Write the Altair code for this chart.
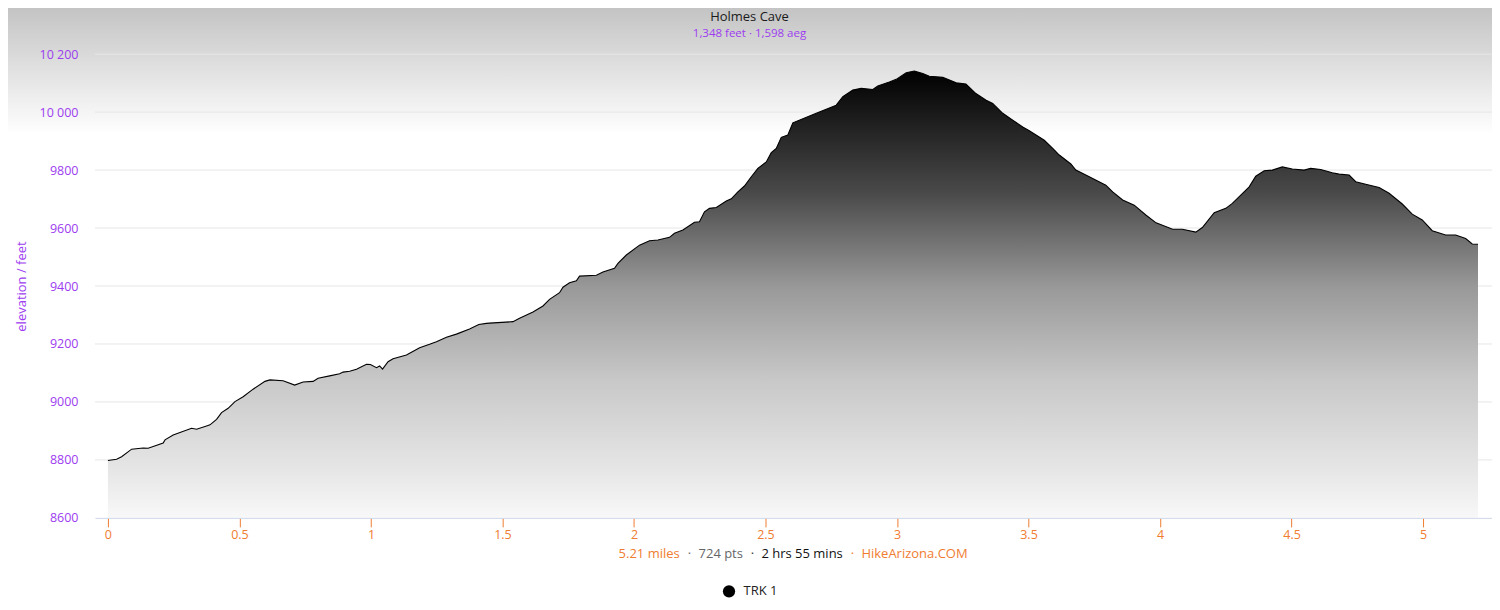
import altair as alt
import pandas as pd

# ---- data ----
miles = [0.000, 0.033, 0.052, 0.090, 0.134, 0.153, 0.210, 0.217, 0.248, 0.318,
         0.337, 0.375, 0.388, 0.413, 0.432, 0.457, 0.483, 0.514, 0.552, 0.597,
         0.616, 0.666, 0.710, 0.742, 0.780, 0.799, 0.843, 0.881, 0.894, 0.919,
         0.945, 0.983, 0.998, 1.021, 1.033, 1.044, 1.065, 1.084, 1.135, 1.185,
         1.223, 1.249, 1.287, 1.325, 1.375, 1.410, 1.439, 1.451, 1.540, 1.565,
         1.616, 1.654, 1.679, 1.717, 1.730, 1.755, 1.781, 1.793, 1.857, 1.882,
         1.926, 1.939, 1.971, 2.021, 2.059, 2.091, 2.135, 2.154, 2.186, 2.230,
         2.249, 2.268, 2.287, 2.313, 2.351, 2.370, 2.395, 2.420, 2.446, 2.471,
         2.503, 2.522, 2.541, 2.560, 2.585, 2.604, 2.693, 2.769, 2.794, 2.832,
         2.864, 2.908, 2.927, 2.971, 2.997, 3.035, 3.066, 3.098, 3.123, 3.174,
         3.225, 3.262, 3.300, 3.339, 3.364, 3.402, 3.440, 3.478, 3.503, 3.560,
         3.592, 3.617, 3.661, 3.680, 3.731, 3.794, 3.820, 3.858, 3.902, 3.946,
         3.985, 4.048, 4.085, 4.136, 4.161, 4.206, 4.250, 4.275, 4.339, 4.364,
         4.396, 4.427, 4.465, 4.503, 4.548, 4.573, 4.611, 4.655, 4.681, 4.719,
         4.744, 4.782, 4.833, 4.871, 4.921, 4.959, 4.997, 5.035, 5.086, 5.124,
         5.162, 5.187, 5.209]
elev = [8798, 8802, 8811, 8837, 8841, 8840, 8858, 8869, 8886, 8909,
        8906, 8917, 8921, 8940, 8963, 8978, 9001, 9018, 9044, 9071,
        9076, 9073, 9058, 9069, 9071, 9082, 9090, 9097, 9103, 9106,
        9113, 9130, 9129, 9118, 9124, 9113, 9139, 9149, 9162, 9187,
        9199, 9208, 9223, 9234, 9252, 9267, 9271, 9272, 9277, 9289,
        9310, 9331, 9354, 9377, 9396, 9411, 9418, 9434, 9437, 9448,
        9461, 9478, 9507, 9541, 9556, 9559, 9568, 9582, 9593, 9620,
        9622, 9656, 9668, 9671, 9693, 9701, 9725, 9745, 9777, 9806,
        9828, 9860, 9875, 9913, 9921, 9963, 9996, 10024, 10053, 10076,
        10082, 10078, 10090, 10104, 10113, 10136, 10142, 10133, 10124, 10120,
        10101, 10097, 10064, 10041, 10030, 9996, 9972, 9949, 9936, 9903,
        9875, 9852, 9821, 9800, 9777, 9748, 9725, 9697, 9679, 9645,
        9618, 9596, 9596, 9586, 9602, 9653, 9668, 9685, 9742, 9779,
        9798, 9800, 9811, 9804, 9800, 9806, 9802, 9791, 9786, 9783,
        9760, 9751, 9740, 9720, 9683, 9648, 9628, 9591, 9576, 9576,
        9564, 9545, 9544]
track_names = ["TRK 1"]
y_ticks = [8600, 8800, 9000, 9200, 9400, 9600, 9800, 10000, 10200]
x_ticks = [0, 0.5, 1, 1.5, 2, 2.5, 3, 3.5, 4, 4.5, 5]
chart_title = "Holmes Cave"
chart_subtitle = "1,348 feet \u00b7 1,598 aeg"
footer_parts = ["5.21 miles", "\u00b7", "724 pts", "\u00b7", "2 hrs 55 mins", "\u00b7", "HikeArizona.COM"]

PURPLE = "#9d3cf0"
ORANGE = "#f07c30"
FONT = "Open Sans"
W, H = 1398, 464

df = pd.DataFrame({"mile": miles, "elev": elev, "track": track_names[0]})

xsc = alt.Scale(domain=[-0.0494, 5.2622], nice=False, zero=False)
ysc = alt.Scale(domain=[8600, 10200], nice=False, zero=False)

xax = alt.Axis(values=x_ticks, title=None, grid=False, domainColor="#ccd6eb",
               domainWidth=1, tickColor=ORANGE, tickSize=9, tickWidth=1,
               labelColor=ORANGE, labelFont=FONT, labelFontSize=12.5,
               labelPadding=2, labelExpr="format(datum.value, '~g')",
               labelFlush=False, labelOverlap=False, zindex=1)
yax = alt.Axis(values=y_ticks, grid=False, domain=False, ticks=False, tickSize=0,
               labelPadding=17, labelColor=PURPLE, labelFont=FONT, labelFontSize=12.5,
               labelExpr="datum.value >= 10000 ? replace(format(datum.value, ','), ',', ' ') : format(datum.value, 'd')",
               title="elevation / feet", titleColor=PURPLE, titleFont=FONT,
               titleFontSize=13, titleFontWeight="normal", titleX=-73, titleY=232,
               titleAngle=270, titleAlign="center", titleBaseline="middle", zindex=1)

one = pd.DataFrame({"k": [0]})

bg = alt.Chart(one).mark_rect(
    fill=alt.LinearGradient(gradient="linear",
                            stops=[alt.GradientStop(color="#c2c2c2", offset=0),
                                   alt.GradientStop(color="#ffffff", offset=1)],
                            x1=0, x2=0, y1=0, y2=1)
).encode(x=alt.value(-90), x2=alt.value(W + 10), y=alt.value(-50), y2=alt.value(80))

grid = alt.Chart(pd.DataFrame({"elev": y_ticks[1:]})).mark_rule(
    color="#e6e6e6", strokeWidth=1
).encode(y=alt.Y("elev:Q", scale=ysc, axis=yax))

area_fill = alt.LinearGradient(
    gradient="linear",
    stops=[alt.GradientStop(color="#000000", offset=0),
           alt.GradientStop(color="#4a4a4a", offset=0.275),
           alt.GradientStop(color="#999999", offset=0.484),
           alt.GradientStop(color="#c8c8c8", offset=0.692),
           alt.GradientStop(color="#e6e6e6", offset=0.893),
           alt.GradientStop(color="#f8f8f8", offset=1)],
    x1=0, x2=0, y1=0, y2=1)

base = alt.Chart(df)
area = base.mark_area(fill=area_fill, line=False, strokeWidth=0).encode(
    x=alt.X("mile:Q", scale=xsc, axis=xax),
    y=alt.Y("elev:Q", scale=ysc, axis=yax),
    y2=alt.datum(8600),
)
line = base.mark_line(strokeWidth=1.1).encode(
    x=alt.X("mile:Q", scale=xsc, axis=xax),
    y=alt.Y("elev:Q", scale=ysc, axis=yax),
    color=alt.Color("track:N", scale=alt.Scale(domain=track_names, range=["#000000"]),
                    legend=alt.Legend(title=None, orient="none", legendX=628, legendY=531,
                                      symbolType="circle", symbolSize=150,
                                      symbolFillColor="#000000", symbolStrokeColor="#000000",
                                      symbolStrokeWidth=0, labelFont=FONT, labelFontSize=13,
                                      labelColor="#222222", labelOffset=8, padding=0)),
)

# title and subtitle (drawn as text so they sit on the grey header band)
title_txt = alt.Chart(one).mark_text(
    text=chart_title, align="center", baseline="middle", font=FONT, fontSize=13,
    color="#1a1a1a").encode(x=alt.value(655), y=alt.value(-37))
subtitle_txt = alt.Chart(one).mark_text(
    text=chart_subtitle, align="center", baseline="middle", font=FONT, fontSize=11.5,
    color=PURPLE).encode(x=alt.value(655), y=alt.value(-20))

# multi-coloured footer line under the x axis
footer_layout = [(524, "left"), (595, "center"), (604, "left"), (658, "center"),
                 (667, "left"), (758, "center"), (767, "left")]
footer_colors = [ORANGE, "#666666", "#666666", "#333333", "#111111", ORANGE, ORANGE]
texts = []
for part, (px, al), col in zip(footer_parts, footer_layout, footer_colors):
    texts.append(
        alt.Chart(one).mark_text(text=part, align=al, baseline="middle", font=FONT,
                                 fontSize=13, color=col)
        .encode(x=alt.value(px), y=alt.value(500))
    )

chart = alt.layer(bg, grid, area, line, title_txt, subtitle_txt, *texts).properties(
    width=W, height=H,
    padding={"left": 87, "top": 46, "right": 0, "bottom": 80},
    autosize=alt.AutoSizeParams(type="none"),
).configure(font=FONT).configure_view(stroke=None)

chart.save("out.html", embed_options={"renderer": "svg", "actions": False})
